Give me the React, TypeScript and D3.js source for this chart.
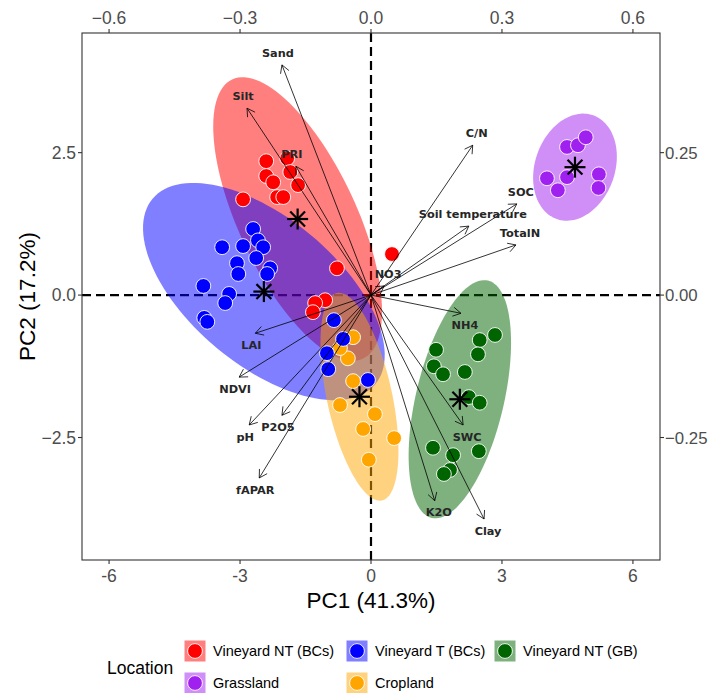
import React from 'react';
import * as d3 from 'd3';

// groups in legend order
const groups = ['Vineyard NT (BCs)', 'Vineyard T (BCs)', 'Vineyard NT (GB)', 'Grassland', 'Cropland'];
const colors = ['#FF0000', '#0000FF', '#006400', '#A020F0', '#FFA500'];

// PCA scores [PC1, PC2] per group
const scoresNtBcs = [
  [-2.40, 2.35], [-1.92, 2.40], [-2.40, 2.09], [-1.85, 2.16], [-2.24, 1.98], [-1.67, 1.93], [-2.15, 1.72],
  [-2.01, 1.72], [-2.93, 1.68], [-0.78, 0.47], [-1.05, -0.09], [-1.28, -0.14], [-1.33, -0.30], [0.48, 0.72],
];
const scoresTBcs = [
  [-2.70, 1.16], [-3.41, 0.84], [-2.93, 0.86], [-2.59, 0.96], [-2.47, 0.84], [-2.63, 0.65], [-3.07, 0.56],
  [-3.04, 0.37], [-2.31, 0.47], [-2.38, 0.37], [-3.84, 0.16], [-3.25, 0.02], [-3.34, -0.14], [-3.82, -0.40],
  [-3.75, -0.47], [-0.85, -0.44], [-0.64, -0.77], [-1.01, -1.02], [-0.98, -1.30], [-0.07, -1.49],
];
const scoresNtGb = [
  [2.84, -0.70], [2.49, -0.79], [2.45, -1.04], [1.49, -0.96], [1.44, -1.25], [1.65, -1.39], [2.15, -1.35],
  [2.24, -1.79], [2.49, -1.89], [1.42, -2.68], [1.88, -2.81], [2.47, -2.74], [1.81, -3.07], [1.67, -3.14],
];
const scoresGrass = [
  [4.49, 2.60], [4.74, 2.63], [4.92, 2.77], [4.03, 2.05], [4.28, 1.84], [4.49, 2.07], [5.22, 2.12], [5.21, 1.88],
];
const scoresCrop = [
  [-0.41, -0.74], [-0.53, -1.11], [-0.41, -1.51], [-0.71, -1.93], [0.09, -2.09], [-0.18, -2.35],
  [0.53, -2.51], [-0.05, -2.89], [-0.71, -0.93],
];
const scores = [scoresNtBcs, scoresTBcs, scoresNtGb, scoresGrass, scoresCrop];

// ellipse semi-axis vectors in PC units: [u1, u2, v1, v2]
const ellipseAxes = [
  [1.50, -2.45, 1.22, 0.44],
  [2.549, -1.630, 1.08, 0.99],
  [0.645, 2.083, 0.98, -0.18],
  [0.416, 0.911, 0.864, -0.232],
  [0.515, -1.820, 0.73, 0.12],
];

// variable loadings
const varNames = ['Sand', 'Silt', 'PRI', 'C/N', 'SOC', 'Soil temperature', 'TotalN', 'NO3', 'NH4', 'SWC',
  'K2O', 'Clay', 'LAI', 'NDVI', 'pH', 'P2O5', 'fAPAR'];
const loadPC1 = [-0.204, -0.284, -0.172, 0.233, 0.334, 0.224, 0.332, 0.030, 0.206, 0.211,
  0.146, 0.259, -0.265, -0.302, -0.279, -0.204, -0.256];
const loadPC2 = [0.404, 0.328, 0.226, 0.263, 0.160, 0.121, 0.088, 0.016, -0.032, -0.228,
  -0.361, -0.393, -0.067, -0.144, -0.228, -0.211, -0.321];

const ticksPC1 = [-6, -3, 0, 3, 6];
const ticksPC2 = [-2.5, 0, 2.5];
const ticksLoad1 = [-0.6, -0.3, 0, 0.3, 0.6];
const ticksLoad2 = [-0.25, 0, 0.25];

const legendRows = [[0, 1, 2], [3, 4]];

const font = 'Liberation Sans, Arial, sans-serif';

export default function App() {
  const left = 82, right = 660, top = 33, bottom = 560;
  const x = d3.scaleLinear().domain([-6.62, 6.62]).range([left, right]);
  const y = d3.scaleLinear().domain([-4.65, 4.6]).range([bottom, top]);
  const xL = d3.scaleLinear().domain([-0.662, 0.662]).range([left, right]);
  const yL = d3.scaleLinear().domain([-0.465, 0.46]).range([bottom, top]);

  const means = scores.map((s) => [d3.mean(s, (d) => d[0]), d3.mean(s, (d) => d[1])]);
  const ellLine = d3.line().curve(d3.curveLinearClosed);
  const angles = d3.range(0, 2 * Math.PI, Math.PI / 60);
  const ellipses = ellipseAxes.map((a, i) => ellLine(angles.map((t) => [
    x(means[i][0] + a[0] * Math.cos(t) + a[2] * Math.sin(t)),
    y(means[i][1] + a[1] * Math.cos(t) + a[3] * Math.sin(t)),
  ])));

  const fillA = (c) => { const k = d3.color(c); k.opacity = 0.5; return k.formatRgb(); };
  const pointOrder = [0, 4, 1, 2, 3];
  const ox = xL(0), oy = yL(0);

  const star = (cx, cy, key) => (
    <g key={key} stroke="#000" strokeWidth={2.2}>
      {d3.range(0, 8).map((k) => {
        const a = (k * Math.PI) / 4;
        return <line key={k} x1={cx} y1={cy} x2={cx + 10.5 * Math.cos(a)} y2={cy + 10.5 * Math.sin(a)} />;
      })}
    </g>
  );

  return (
    <svg width={708} height={693} style={{ position: 'absolute', left: 0, top: 0, background: '#fff' }} fontFamily={font}>
      <rect x={0} y={0} width={708} height={693} fill="#fff" />
      {/* reference lines */}
      <line x1={left} x2={right} y1={y(0)} y2={y(0)} stroke="#000" strokeWidth={2.2} strokeDasharray="9,5" />
      <line x1={x(0)} x2={x(0)} y1={top} y2={bottom} stroke="#000" strokeWidth={2.2} strokeDasharray="9,5" />
      {/* ellipses */}
      {ellipses.map((d, i) => <path key={i} d={d} fill={fillA(colors[i])} stroke="none" />)}
      {/* points */}
      {pointOrder.map((g) => scores[g].map((p, j) => (
        <circle key={`${g}-${j}`} cx={x(p[0])} cy={y(p[1])} r={7.4} fill={colors[g]} stroke="#fff" strokeWidth={0.9} />
      )))}
      {/* arrows */}
      <g stroke="#000" strokeWidth={0.8} fill="none">
        {varNames.map((v, i) => {
          const tx = xL(loadPC1[i]), ty = yL(loadPC2[i]);
          const ang = Math.atan2(ty - oy, tx - ox);
          const h = 9;
          const a1 = ang + Math.PI - Math.PI / 6, a2 = ang + Math.PI + Math.PI / 6;
          return (
            <g key={v}>
              <line x1={ox} y1={oy} x2={tx} y2={ty} />
              <polyline points={`${tx + h * Math.cos(a1)},${ty + h * Math.sin(a1)} ${tx},${ty} ${tx + h * Math.cos(a2)},${ty + h * Math.sin(a2)}`} />
            </g>
          );
        })}
      </g>
      {/* group centroids */}
      {means.map((m, i) => star(x(m[0]), y(m[1]), i))}
      {/* variable labels */}
      <g fontFamily="DejaVu Sans, sans-serif" fontWeight="bold" fontSize={11.3} fill="#262626" textAnchor="middle">
        {varNames.map((v, i) => (
          <text key={v} x={xL(loadPC1[i]) + (loadPC1[i] > 0 ? 4 : -4)} y={yL(loadPC2[i]) + (loadPC2[i] > 0 ? -12 : 11.5)} dy="0.36em">{v}</text>
        ))}
      </g>
      {/* panel border */}
      <rect x={left} y={top} width={right - left} height={bottom - top} fill="none" stroke="#333" strokeWidth={1.1} />
      {/* axes */}
      <g stroke="#333" strokeWidth={1.1}>
        {ticksPC1.map((t) => <line key={`b${t}`} x1={x(t)} x2={x(t)} y1={bottom} y2={bottom + 4} />)}
        {ticksLoad1.map((t) => <line key={`t${t}`} x1={xL(t)} x2={xL(t)} y1={top} y2={top - 4} />)}
        {ticksPC2.map((t) => <line key={`l${t}`} x1={left} x2={left - 4} y1={y(t)} y2={y(t)} />)}
        {ticksLoad2.map((t) => <line key={`r${t}`} x1={right} x2={right + 4} y1={yL(t)} y2={yL(t)} />)}
      </g>
      <g fontSize={17.5} fill="#4D4D4D">
        {ticksPC1.map((t) => <text key={`b${t}`} x={x(t)} y={582} textAnchor="middle">{t}</text>)}
        {ticksLoad1.map((t) => <text key={`t${t}`} x={xL(t)} y={24} textAnchor="middle">{d3.format('.1f')(t)}</text>)}
        {ticksPC2.map((t) => <text key={`l${t}`} x={left - 6} y={y(t)} dy="0.36em" textAnchor="end">{d3.format('.1f')(t)}</text>)}
        {ticksLoad2.map((t) => <text key={`r${t}`} x={right + 5} y={yL(t)} dy="0.36em" textAnchor="start" fontSize={16.8}>{d3.format('.2f')(t)}</text>)}
      </g>
      <text x={(left + right) / 2} y={608} fontSize={22.5} textAnchor="middle" fill="#000">PC1 (41.3%)</text>
      <text transform={`translate(35,${(top + bottom) / 2}) rotate(-90)`} fontSize={22.5} textAnchor="middle" fill="#000">PC2 (17.2%)</text>
      {/* legend */}
      <text x={107} y={668} dy="0.36em" fontSize={17.5} fill="#000">Location</text>
      {legendRows.map((row, r) => row.map((g, c) => {
        const kx = [195, 357, 505][c], ky = 651 + r * 32;
        return (
          <g key={g}>
            <rect x={kx - 10.5} y={ky - 10.5} width={21} height={21} fill={fillA(colors[g])} />
            <circle cx={kx} cy={ky} r={7.4} fill={colors[g]} stroke="#fff" strokeWidth={0.9} />
            <text x={kx + 18} y={ky} dy="0.36em" fontSize={14.5} fill="#000">{groups[g]}</text>
          </g>
        );
      }))}
    </svg>
  );
}
